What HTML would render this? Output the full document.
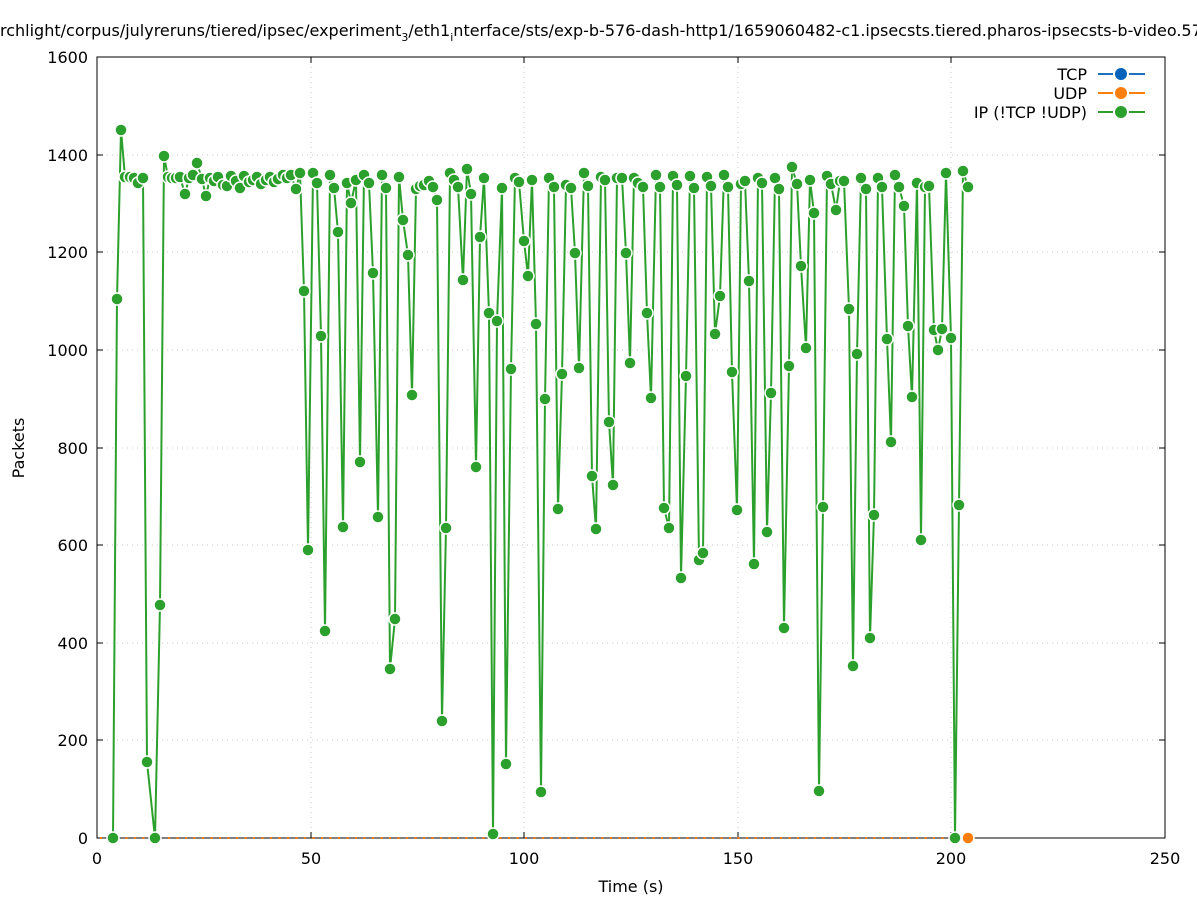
<!DOCTYPE html>
<html><head><meta charset="utf-8"><style>
html,body{margin:0;padding:0;background:#fff;}
svg{display:block;font-family:"DejaVu Sans","Liberation Sans",sans-serif;}
</style></head><body>
<svg id="s" width="1197" height="900" viewBox="0 0 1197 900" xmlns="http://www.w3.org/2000/svg">
<rect width="1197" height="900" fill="#fff"/>
<g stroke="#c8c8c8" stroke-width="1" stroke-dasharray="1,4">
<line x1="97" y1="740" x2="1165" y2="740"/><line x1="97" y1="643" x2="1165" y2="643"/>
<line x1="97" y1="545" x2="1165" y2="545"/><line x1="97" y1="448" x2="1165" y2="448"/>
<line x1="97" y1="350" x2="1165" y2="350"/><line x1="97" y1="252" x2="1165" y2="252"/>
<line x1="97" y1="155" x2="1165" y2="155"/>
<line x1="311" y1="57" x2="311" y2="838"/><line x1="524" y1="57" x2="524" y2="838"/>
<line x1="738" y1="57" x2="738" y2="838"/><line x1="951" y1="57" x2="951" y2="838"/>
</g>
<rect x="97" y="57" width="1068" height="781" fill="none" stroke="#000" stroke-width="1"/>
<g stroke="#000" stroke-width="1">
<path d="M97 838h6M97 740h6M97 643h6M97 545h6M97 448h6M97 350h6M97 252h6M97 155h6M97 57h6"/>
<path d="M1165 838h-6M1165 740h-6M1165 643h-6M1165 545h-6M1165 448h-6M1165 350h-6M1165 252h-6M1165 155h-6M1165 57h-6"/>
<path d="M97 838v-6M311 838v-6M524 838v-6M738 838v-6M951 838v-6M1165 838v-6"/>
<path d="M97 57v6M311 57v6M524 57v6M738 57v6M951 57v6M1165 57v6"/>
</g>
<g font-size="16" fill="#000" text-anchor="end">
<text x="88" y="844">0</text><text x="88" y="746">200</text><text x="88" y="649">400</text>
<text x="88" y="551">600</text><text x="88" y="454">800</text><text x="88" y="356">1000</text>
<text x="88" y="258">1200</text><text x="88" y="161">1400</text><text x="88" y="63">1600</text>
</g>
<g font-size="16" fill="#000" text-anchor="middle">
<text x="97" y="864">0</text><text x="311" y="864">50</text><text x="524" y="864">100</text>
<text x="738" y="864">150</text><text x="951" y="864">200</text><text x="1165" y="864">250</text>
<text x="631" y="892">Time (s)</text>
</g>
<text transform="translate(24,448) rotate(-90)" font-size="16" text-anchor="middle">Packets</text>
<text x="0" y="36" font-size="16">rchlight/corpus/julyreruns/tiered/ipsec/experiment<tspan font-size="11" dy="5">3</tspan><tspan dy="-5">/eth1</tspan><tspan font-size="11" dy="5">i</tspan><tspan dy="-5">nterface/sts/exp-b-576-dash-http1/1659060482-c1.ipsecsts.tiered.pharos-ipsecsts-b-video.57</tspan></text>
<line x1="100" y1="838" x2="968" y2="838" stroke="#ff7f0e" stroke-width="2" stroke-dasharray="2,6.5"/>
<g id="g"></g>
<circle cx="968" cy="838" r="6" fill="#ff7f0e" stroke="#fff" stroke-width="1.5"/>
<g font-size="16" text-anchor="end">
<text x="1087" y="80">TCP</text><text x="1087" y="99">UDP</text><text x="1087" y="118">IP (!TCP  !UDP)</text>
</g>
<g stroke-width="2">
<path d="M1098 74h15M1129 74h16" stroke="#1f6fbf"/><circle cx="1121" cy="74" r="6" fill="#0062b8"/>
<path d="M1098 93h15M1129 93h16" stroke="#ff7f0e"/><circle cx="1121" cy="93" r="6" fill="#ff7f0e"/>
<path d="M1098 112h15M1129 112h16" stroke="#2ca02c"/><circle cx="1121" cy="112" r="6" fill="#2ca02c"/>
</g>
</svg>
<script>
var d=[113,838,117,299,121,130,125,177,130,177,134,178,138,183,143,178,147,762,155,838,160,605,164,156,168,177,172,178,176,178,180,177,185,194,189,178,193,175,197,163,202,179,206,196,210,178,214,181,218,177,223,185,227,186,231,176,236,181,240,188,244,176,249,182,253,180,257,177,261,184,266,180,270,177,274,182,278,179,283,175,287,178,291,175,296,189,300,173,304,291,308,550,313,173,317,183,321,336,325,631,330,175,334,188,338,232,343,527,347,183,351,203,356,180,360,462,364,175,369,183,373,273,378,517,382,175,386,188,390,669,395,619,399,177,403,220,408,255,412,395,416,189,420,186,424,185,429,181,433,187,437,200,442,721,446,528,450,173,454,180,458,187,463,280,467,169,471,194,476,467,480,237,484,178,489,313,493,834,497,321,502,188,506,764,511,369,515,178,519,182,524,241,528,276,532,180,536,324,541,792,545,399,549,178,554,187,558,509,562,374,566,185,571,188,575,253,579,368,584,173,588,186,592,476,596,529,601,177,605,180,609,422,613,485,617,178,622,178,626,253,630,363,634,178,638,183,643,187,647,313,651,398,656,175,660,187,664,508,669,528,673,176,677,185,681,578,686,376,690,176,694,188,699,560,703,553,707,177,711,186,715,334,720,296,724,175,728,187,732,372,737,510,741,184,745,181,749,281,754,564,758,178,762,183,767,532,771,393,775,178,779,189,784,628,789,366,792,167,797,184,801,266,806,348,810,180,814,213,819,791,823,507,827,176,831,184,836,210,840,181,844,181,849,309,853,666,857,354,861,178,866,189,870,638,874,515,878,178,882,187,887,339,891,442,895,175,899,187,904,206,908,326,912,397,917,183,921,540,925,187,929,186,934,330,938,350,942,329,946,173,951,338,955,838,959,505,963,171,968,187];
var ns="http://www.w3.org/2000/svg",g=document.getElementById("g"),p="";
for(var i=0;i<d.length;i+=2)p+=(i?"L":"M")+d[i]+" "+d[i+1];
var pl=document.createElementNS(ns,"path");pl.setAttribute("d",p);pl.setAttribute("fill","none");pl.setAttribute("stroke","#fff");pl.setAttribute("stroke-width","4");g.appendChild(pl);
pl=document.createElementNS(ns,"path");pl.setAttribute("d",p);pl.setAttribute("fill","none");pl.setAttribute("stroke","#2ca02c");pl.setAttribute("stroke-width","2");g.appendChild(pl);
for(i=0;i<d.length;i+=2){var c=document.createElementNS(ns,"circle");c.setAttribute("cx",d[i]);c.setAttribute("cy",d[i+1]);c.setAttribute("r","6");c.setAttribute("fill","#2ca02c");c.setAttribute("stroke","#fff");c.setAttribute("stroke-width","1.5");g.appendChild(c);}
</script>
</body></html>
